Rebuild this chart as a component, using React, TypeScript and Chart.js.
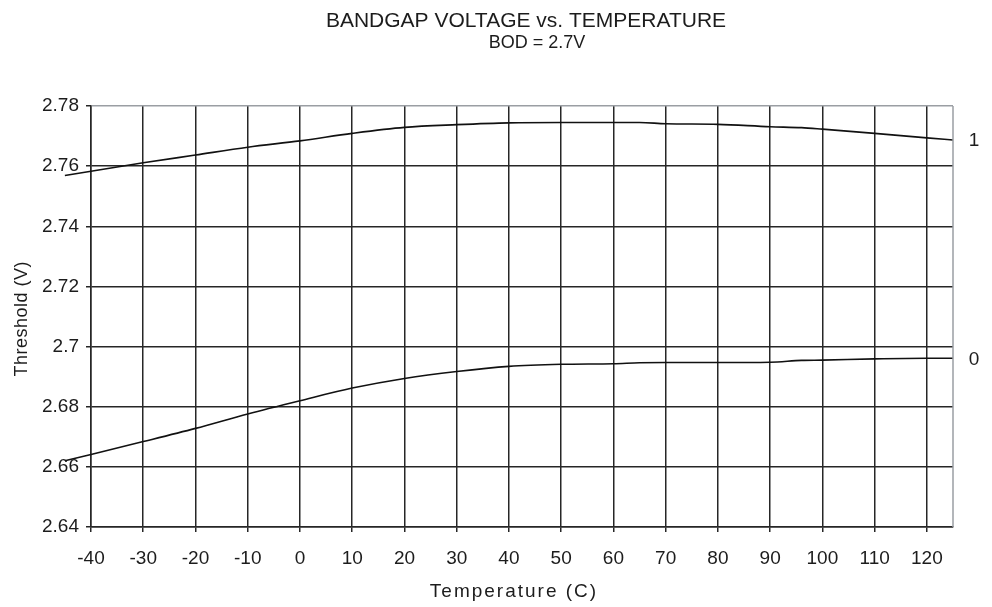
import React, { useEffect, useRef } from "react";
import { Chart, registerables } from "chart.js";

Chart.register(...registerables);

const temperatures = [-45, -30, -20, -10, 0, 10, 20, 30, 40, 50, 60, 65, 70, 80, 90, 96, 100, 110, 120, 125];
const series1 = [2.7569, 2.7611, 2.7637, 2.7663, 2.7684, 2.7709, 2.7729, 2.7738, 2.7744, 2.7745, 2.7745, 2.7745, 2.7741, 2.7739, 2.7731, 2.7728, 2.7723, 2.7709, 2.7694, 2.7687];
const series0 = [2.662, 2.6684, 2.6728, 2.6776, 2.682, 2.6862, 2.6894, 2.6917, 2.6934, 2.6941, 2.6943, 2.6946, 2.6947, 2.6947, 2.6948, 2.6954, 2.6955, 2.6959, 2.6961, 2.6961];
const seriesLabels = ["1", "0"];
const titleText = "BANDGAP VOLTAGE vs. TEMPERATURE";
const subtitleText = "BOD = 2.7V";
const xTitle = "Temperature (C)";
const yTitle = "Threshold (V)";

const FONT = "'Liberation Sans', Arial, Helvetica, sans-serif";
const INK = "#1c1c1c";
const GRID = "#262626";
const EDGE = "#9a9ea3";

function spacedText(ctx: any, text: string, x: number, y: number, spacing: number) {
  const hasLS = "letterSpacing" in ctx;
  if (hasLS) {
    ctx.letterSpacing = `${spacing}px`;
    // compensate trailing spacing for centered text
    ctx.fillText(text, x + spacing / 2, y);
    ctx.letterSpacing = "0px";
  } else {
    ctx.fillText(text, x, y);
  }
}

const decorPlugin = {
  id: "decor",
  afterDraw(chart: any) {
    const { ctx, chartArea, scales } = chart;
    ctx.save();
    // right border (gray)
    ctx.strokeStyle = EDGE;
    ctx.lineWidth = 1.5;
    ctx.beginPath();
    ctx.moveTo(chartArea.right, chartArea.top);
    ctx.lineTo(chartArea.right, chartArea.bottom);
    ctx.stroke();
    // titles
    ctx.fillStyle = INK;
    ctx.textAlign = "center";
    ctx.textBaseline = "middle";
    ctx.font = `21px ${FONT}`;
    ctx.fillText(titleText, 526, 21);
    ctx.font = `18px ${FONT}`;
    ctx.fillText(subtitleText, 537, 43);
    // x axis title
    ctx.font = `19px ${FONT}`;
    spacedText(ctx, xTitle, 513, 592, 2);
    // y axis title
    ctx.save();
    ctx.translate(22, 319);
    ctx.rotate(-Math.PI / 2);
    ctx.font = `18px ${FONT}`;
    spacedText(ctx, yTitle, 0, 0, 0.5);
    ctx.restore();
    // series labels at right
    ctx.font = `19px ${FONT}`;
    const ends = [series1[series1.length - 1], series0[series0.length - 1]];
    ends.forEach((v, i) => {
      const y = scales.y.getPixelForValue(v);
      ctx.fillText(seriesLabels[i], chartArea.right + 21, y + 1);
    });
    ctx.restore();
  },
};

export default function App() {
  const ref = useRef<HTMLCanvasElement | null>(null);
  useEffect(() => {
    if (!ref.current) return;
    const chart = new Chart(ref.current, {
      type: "line",
      data: {
        datasets: [
          {
            label: seriesLabels[0],
            data: temperatures.map((t, i) => ({ x: t, y: series1[i] })),
            borderColor: "#111",
            borderWidth: 1.6,
            pointRadius: 0,
            cubicInterpolationMode: "monotone",
            clip: false,
          } as any,
          {
            label: seriesLabels[1],
            data: temperatures.map((t, i) => ({ x: t, y: series0[i] })),
            borderColor: "#111",
            borderWidth: 1.6,
            pointRadius: 0,
            cubicInterpolationMode: "monotone",
            clip: false,
          } as any,
        ],
      },
      options: {
        responsive: false,
        animation: false,
        devicePixelRatio: 1,
        layout: { padding: { top: 106, right: 39, left: 0, bottom: 0 } },
        plugins: {
          legend: { display: false },
          tooltip: { enabled: false },
          title: { display: false },
        },
        scales: {
          x: {
            type: "linear",
            min: -40,
            max: 125,
            afterBuildTicks: (scale: any) => {
              const out: any[] = [];
              for (let v = -40; v <= 120; v += 10) out.push({ value: v });
              scale.ticks = out;
            },
            afterFit: (scale: any) => {
              scale.height = 80;
            },
            grid: {
              color: GRID,
              lineWidth: 1.5,
              tickLength: 5,
              tickColor: GRID,
            },
            border: { color: GRID, width: 1.5 },
            ticks: {
              color: INK,
              font: { family: FONT, size: 19 },
              padding: 15,
              maxRotation: 0,
              autoSkip: false,
              callback: (v: any) => String(v),
            },
            title: { display: false },
          },
          y: {
            type: "linear",
            min: 2.64,
            max: 2.78,
            afterBuildTicks: (scale: any) => {
              const out: any[] = [];
              for (let i = 0; i <= 7; i++) out.push({ value: Math.round((2.64 + i * 0.02) * 100) / 100 });
              scale.ticks = out;
            },
            afterFit: (scale: any) => {
              scale.width = 91;
            },
            grid: {
              color: (c: any) => (c.tick && c.tick.value >= 2.7799 ? EDGE : GRID),
              lineWidth: 1.5,
              tickLength: 5,
              tickColor: GRID,
            },
            border: { color: GRID, width: 1.5 },
            ticks: {
              color: INK,
              font: { family: FONT, size: 19 },
              padding: 7,
              callback: (v: any) => String(Number(Number(v).toFixed(2))),
            },
            title: { display: false },
          },
        },
      },
      plugins: [decorPlugin],
    });
    return () => chart.destroy();
  }, []);
  return (
    <div style={{ position: "fixed", left: 0, top: 0, width: 992, height: 607, background: "#fff" }}>
      <canvas ref={ref} width={992} height={607} />
    </div>
  );
}
